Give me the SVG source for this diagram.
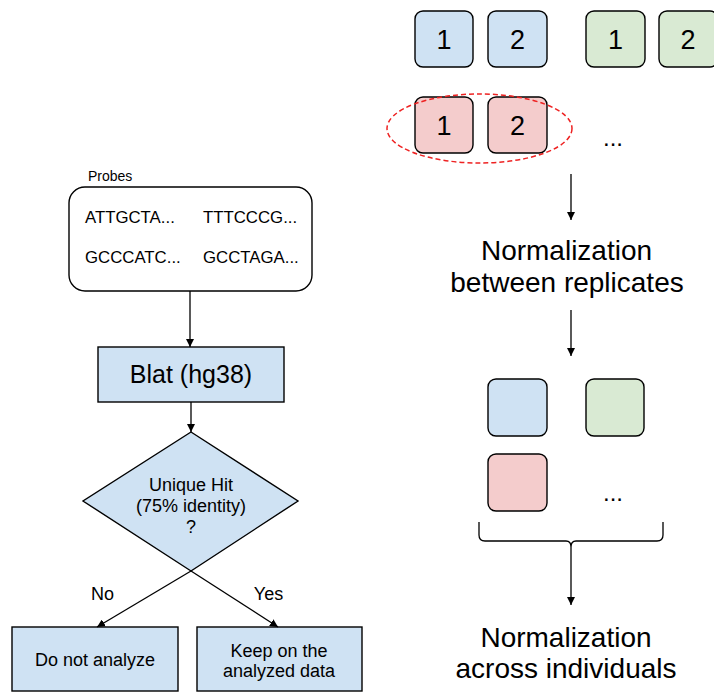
<svg xmlns="http://www.w3.org/2000/svg" width="714" height="693" viewBox="0 0 714 693">
<defs>
<style>
text{font-family:"Liberation Sans",Arial,sans-serif;fill:#000}
.sq{stroke:#000;stroke-width:1.4}
.b{fill:#cfe2f3}
.g{fill:#d9ead3}
.r{fill:#f4cccc}
.num{font-size:27px;text-anchor:middle}
.big{font-size:28px;text-anchor:middle}
.mid{font-size:18px;text-anchor:middle}
.seq{font-size:16.8px}
.ln{fill:none;stroke:#000;stroke-width:1.3}
</style>
<marker id="ah" viewBox="0 0 10 10" refX="10" refY="5" markerWidth="8" markerHeight="8" markerUnits="userSpaceOnUse" orient="auto">
<path d="M0,0 L10,5 L0,10 z" fill="#000"/>
</marker>
</defs>
<rect width="714" height="693" fill="#fff"/>

<g id="rep-blue-1"><rect class="sq b" x="415" y="11" width="58" height="56" rx="8"/><text class="num" x="444" y="49">1</text></g>
<g id="rep-blue-2"><rect class="sq b" x="488" y="11" width="59" height="56" rx="8"/><text class="num" x="517.5" y="49">2</text></g>
<g id="rep-green-1"><rect class="sq g" x="586" y="11" width="59" height="56" rx="8"/><text class="num" x="615.5" y="49">1</text></g>
<g id="rep-green-2"><rect class="sq g" x="659" y="11" width="59" height="56" rx="8"/><text class="num" x="688" y="49">2</text></g>
<g id="rep-red-1"><rect class="sq r" x="415" y="97" width="58" height="56" rx="8"/><text class="num" x="444" y="135">1</text></g>
<g id="rep-red-2"><rect class="sq r" x="488" y="97" width="59" height="56" rx="8"/><text class="num" x="517.5" y="135">2</text></g>
<g id="red-group-ellipse"><ellipse cx="479.5" cy="128.5" rx="92.5" ry="34.5" fill="none" stroke="#ee2222" stroke-width="1.5" stroke-dasharray="5 3"/></g>
<g id="dots-1"><text x="613" y="146" font-size="24" text-anchor="middle">...</text></g>

<g id="norm-rep"><text class="big" x="566.5" y="260">Normalization</text><text class="big" x="567" y="292">between replicates</text></g>

<g id="ind-blue"><rect class="sq b" x="488" y="379" width="59" height="57" rx="8"/></g>
<g id="ind-green"><rect class="sq g" x="586" y="379" width="58" height="57" rx="8"/></g>
<g id="ind-red"><rect class="sq r" x="488" y="454" width="59" height="57" rx="8"/></g>
<g id="dots-2"><text x="613" y="501" font-size="24" text-anchor="middle">...</text></g>
<g id="brace"><path class="ln" d="M479,522 V535 Q479,541 485,541 H566 Q571,541 571,547 Q571,541 576,541 H657 Q663,541 663,535 V522"/></g>

<g id="norm-ind"><text class="big" x="566" y="647">Normalization</text><text class="big" x="566" y="678">across individuals</text></g>

<g id="probes">
<text x="88" y="181" font-size="14">Probes</text>
<rect x="69" y="187" width="243" height="104" rx="16" fill="#fff" stroke="#000" stroke-width="1.4"/>
<text class="seq" x="85" y="223">ATTGCTA...</text>
<text class="seq" x="203" y="223">TTTCCCG...</text>
<text class="seq" x="85" y="263">GCCCATC...</text>
<text class="seq" x="203" y="263">GCCTAGA...</text>
</g>

<g id="blat"><rect class="sq b" x="98" y="347" width="186" height="55"/><text x="191" y="383" font-size="25" text-anchor="middle">Blat (hg38)</text></g>

<g id="decision"><path class="sq b" d="M191,432 L298,501 L191,571 L83,501 Z"/>
<text class="mid" x="191" y="491">Unique Hit</text>
<text class="mid" x="191" y="512">(75% identity)</text>
<text class="mid" x="191" y="533">?</text></g>

<g id="no-analyze"><rect class="sq b" x="12" y="627" width="166" height="64"/><text class="mid" x="95" y="666">Do not analyze</text></g>
<g id="keep"><rect class="sq b" x="197" y="627" width="165" height="64"/><text class="mid" x="279" y="657">Keep on the</text><text class="mid" x="279" y="677">analyzed data</text></g>

<g id="connectors">
<line class="ln" x1="571" y1="174" x2="571" y2="220" marker-end="url(#ah)"/>
<line class="ln" x1="571" y1="310" x2="571" y2="356" marker-end="url(#ah)"/>
<line class="ln" x1="571" y1="547" x2="571" y2="605" marker-end="url(#ah)"/>
<line class="ln" x1="190" y1="291" x2="190" y2="347" marker-end="url(#ah)"/>
<line class="ln" x1="191" y1="402" x2="191" y2="432" marker-end="url(#ah)"/>
<line class="ln" x1="191" y1="571" x2="97" y2="627" marker-end="url(#ah)"/>
<line class="ln" x1="191" y1="571" x2="278" y2="627" marker-end="url(#ah)"/>
<text class="mid" x="102.5" y="600">No</text>
<text class="mid" x="268.5" y="600">Yes</text>
</g>
</svg>
